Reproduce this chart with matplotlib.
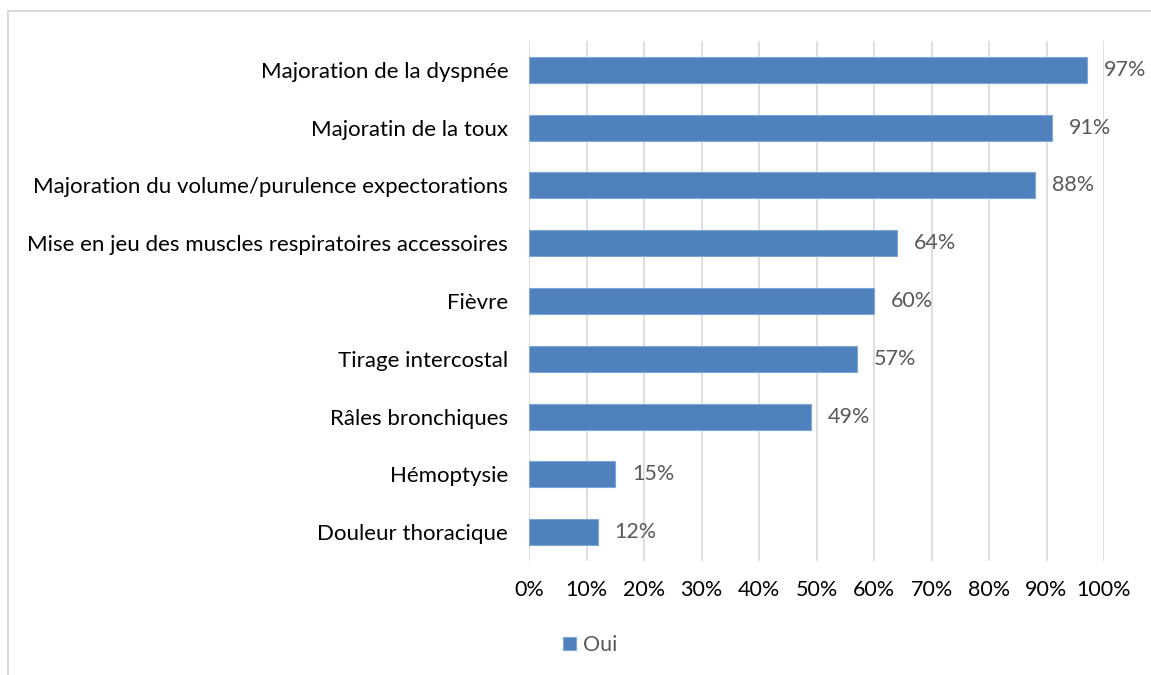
import matplotlib
matplotlib.use("Agg")
import matplotlib.pyplot as plt
from matplotlib.patches import Rectangle

categories = ["Majoration de la dyspnée", "Majoratin de la toux",
              "Majoration du volume/purulence expectorations",
              "Mise en jeu des muscles respiratoires accessoires",
              "Fièvre", "Tirage intercostal", "Râles bronchiques",
              "Hémoptysie", "Douleur thoracique"]
values = [97, 91, 88, 64, 60, 57, 49, 15, 12]
xticks = [0, 10, 20, 30, 40, 50, 60, 70, 80, 90, 100]
xtick_labels = [f"{t}%" for t in xticks]
series_name = "Oui"

plt.rcParams['font.family'] = ['Lato', 'DejaVu Sans']

W, H = 1151, 675
fig = plt.figure(figsize=(W / 100, H / 100), dpi=100)
ax = fig.add_axes([529 / W, 1 - 561 / H, (1104 - 529) / W, (561 - 41) / H])

n = len(categories)
ypos = list(range(n))
bars = ax.barh(ypos, values, height=0.45, color="#4F81BD", edgecolor="#7FA6D6",
               linewidth=0.8, label=series_name, zorder=3)
ax.set_ylim(n - 0.5, -0.5)
ax.set_xlim(0, 100)
ax.set_yticks(ypos)
ax.set_yticklabels(categories, fontsize=16, color="#000000")
ax.set_xticks(xticks)
ax.set_xticklabels(xtick_labels, fontsize=15.5, color="#000000")
ax.tick_params(axis='y', length=0, pad=15)
ax.tick_params(axis='x', length=0, pad=14)
ax.grid(axis='x', color="#D9D9D9", linewidth=1.2, zorder=0)
for s in ax.spines.values():
    s.set_visible(False)

for b, v in zip(bars, values):
    ax.annotate(f"{v}%", xy=(b.get_width(), b.get_y() + b.get_height() / 2),
                xytext=(12, 0), textcoords="offset points", va="center", ha="left",
                fontsize=15.5, color="#595959")

leg = fig.legend(handles=[bars], labels=[series_name], loc="center",
                 bbox_to_anchor=(590 / W, 1 - 645 / H), frameon=False,
                 fontsize=15.5, handlelength=0.6, handleheight=0.6,
                 handletextpad=0.3, labelcolor="#595959")

fig.patches.append(Rectangle((8 / W, 0 - 0.01), 1.2, 1 - 11 / H + 0.01,
                             transform=fig.transFigure, fill=False,
                             edgecolor="#D9D9D9", linewidth=1.5))

fig.savefig("out.png", dpi=100)
